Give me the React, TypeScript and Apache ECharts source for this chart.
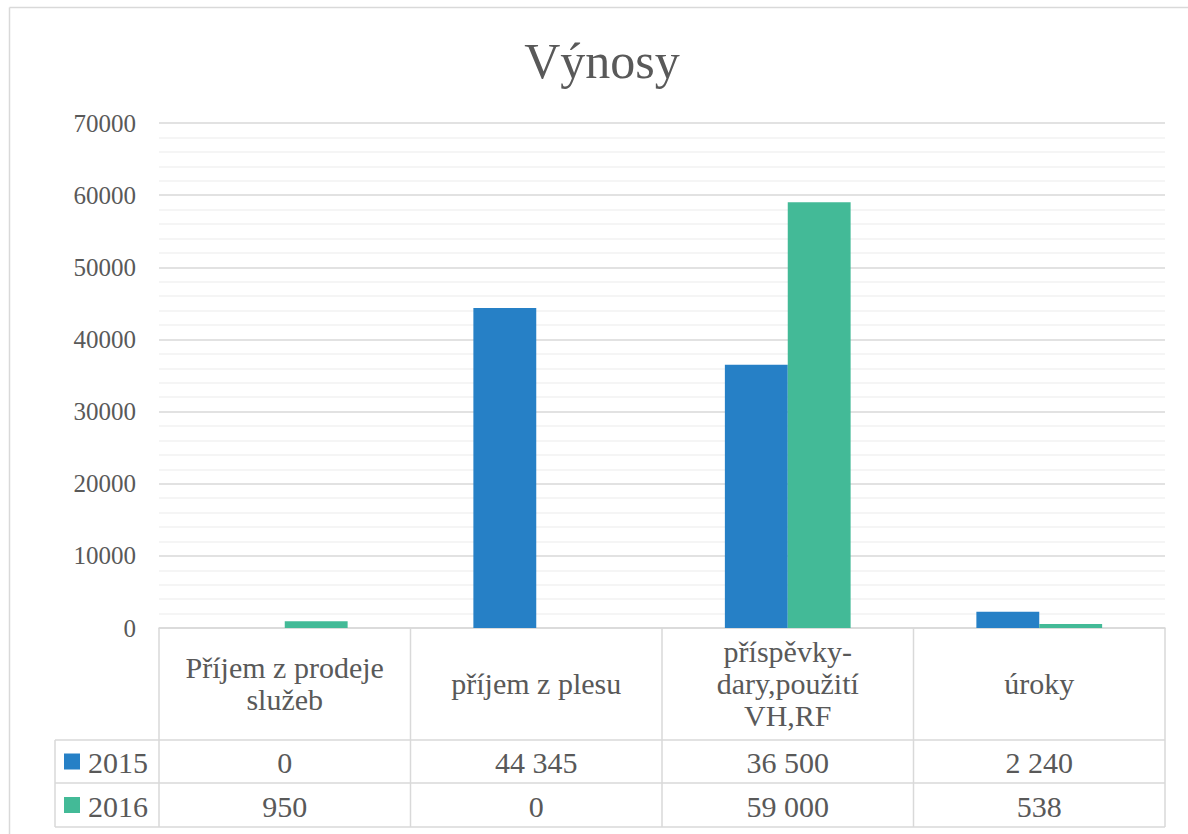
import React, { useEffect, useRef } from "react";
import * as echarts from "echarts";

const categories = ["Příjem z prodeje\nslužeb", "příjem z plesu", "příspěvky-\ndary,použití\nVH,RF", "úroky"];
const seriesNames = ["2015", "2016"];
const values2015 = [0, 44345, 36500, 2240];
const values2016 = [950, 0, 59000, 538];
const yTicks = [0, 10000, 20000, 30000, 40000, 50000, 60000, 70000];
const colors = ["#2680C6", "#43BA97"];

const W = 1188;
const H = 834;
const PLOT_L = 159;
const PLOT_R = 1165;
const PLOT_T = 123;
const PLOT_B = 628;
const ROW1 = 740;
const ROW2 = 783;
const ROW3 = 827;
const LEG_L = 55;
const FONT = "'Liberation Serif', 'DejaVu Serif', serif";
const TXT = "#595959";
const LINE = "#d9d9d9";

function fmt(v: number): string {
  return String(v).replace(/\B(?=(\d{3})+(?!\d))/g, " ");
}

export default function App() {
  const ref = useRef<HTMLDivElement>(null);
  useEffect(() => {
    if (!ref.current) return;
    const chart = echarts.init(ref.current, null, { renderer: "svg" });
    const n = categories.length;
    const colW = (PLOT_R - PLOT_L) / n;
    const graphics: any[] = [];
    const line = (x1: number, y1: number, x2: number, y2: number) => ({
      type: "line",
      shape: { x1, y1, x2, y2 },
      style: { stroke: LINE, lineWidth: 1.5 },
      silent: true,
    });
    // outer border
    graphics.push(line(9.5, 7.5, W, 7.5));
    graphics.push(line(9.5, 7.5, 9.5, H));
    // title
    graphics.push({
      type: "text",
      x: 602,
      y: 61,
      style: { text: "Výnosy", font: `50px ${FONT}`, fill: TXT, align: "center", verticalAlign: "middle" },
    });
    // table lines
    for (let i = 0; i <= n; i++) {
      const x = PLOT_L + colW * i;
      graphics.push(line(x, PLOT_B, x, ROW3));
    }
    graphics.push(line(LEG_L, ROW1, LEG_L, ROW3));
    [ROW1, ROW2, ROW3].forEach((y) => graphics.push(line(LEG_L, y, PLOT_R, y)));
    const rows = [values2015, values2016];
    const rowYs = [(ROW1 + ROW2) / 2, (ROW2 + ROW3) / 2];
    rows.forEach((vals, r) => {
      graphics.push({
        type: "rect",
        shape: { x: 64, y: rowYs[r] - 8, width: 16, height: 16 },
        style: { fill: colors[r] },
      });
      graphics.push({
        type: "text",
        x: 88,
        y: rowYs[r] + 1,
        style: { text: seriesNames[r], font: `30px ${FONT}`, fill: TXT, align: "left", verticalAlign: "middle" },
      });
      vals.forEach((v, i) => {
        graphics.push({
          type: "text",
          x: PLOT_L + colW * (i + 0.5),
          y: rowYs[r] + 1,
          style: { text: fmt(v), font: `30px ${FONT}`, fill: TXT, align: "center", verticalAlign: "middle" },
        });
      });
    });

    chart.setOption({
      animation: false,
      grid: { left: PLOT_L, right: W - PLOT_R, top: PLOT_T, bottom: H - PLOT_B, containLabel: false },
      xAxis: {
        type: "category",
        data: categories,
        axisLine: { show: true, lineStyle: { color: LINE, width: 1.5 } },
        axisTick: { show: false },
        axisLabel: {
          interval: 0,
          margin: (ROW1 - PLOT_B) / 2 - 1,
          verticalAlign: "middle",
          align: "center",
          color: TXT,
          fontFamily: FONT,
          fontSize: 30,
          lineHeight: 32,
        },
      },
      yAxis: {
        type: "value",
        min: yTicks[0],
        max: yTicks[yTicks.length - 1],
        interval: yTicks[1] - yTicks[0],
        axisLine: { show: false },
        axisTick: { show: false },
        axisLabel: { color: TXT, fontFamily: FONT, fontSize: 25, margin: 23, formatter: (v: number) => String(v) },
        splitLine: { show: true, lineStyle: { color: LINE, width: 1.5 } },
        minorTick: { show: false, splitNumber: 5 },
        minorSplitLine: { show: true, lineStyle: { color: "#f2f2f2", width: 1.5 } },
      },
      series: [
        { name: seriesNames[0], type: "bar", data: values2015, itemStyle: { color: colors[0] }, barGap: "0%", barCategoryGap: "50%" },
        { name: seriesNames[1], type: "bar", data: values2016, itemStyle: { color: colors[1] }, barGap: "0%", barCategoryGap: "50%" },
      ],
      graphic: graphics,
    });
    return () => chart.dispose();
  }, []);
  return <div ref={ref} style={{ position: "absolute", left: 0, top: 0, width: W, height: H, background: "#fff" }} />;
}
